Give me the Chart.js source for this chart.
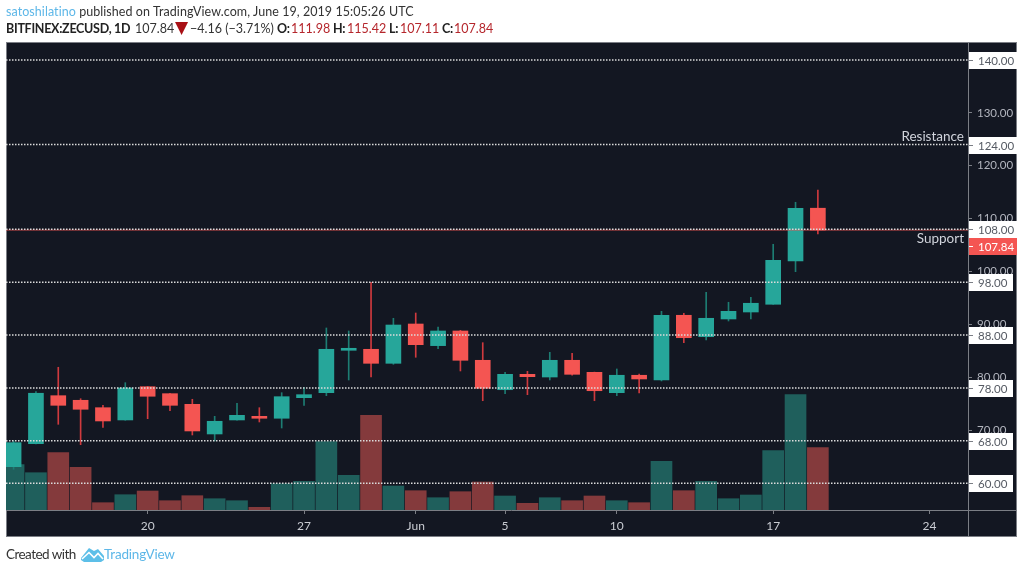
<!DOCTYPE html>
<html lang="en">
  <head>
    <meta charset="UTF-8" />
    <title>BITFINEX:ZECUSD, 1D</title>
    <script src="https://cdn.jsdelivr.net/npm/chart.js"></script>
    <style>
      * {
        margin: 0;
        padding: 0;
        box-sizing: border-box;
      }

      body {
        width: 1024px;
        height: 573px;
        background: #fff;
        overflow: hidden;
        position: relative;
        font-family: Lato, sans-serif;
      }

      .frame {
        position: absolute;
        left: 6px;
        top: 42px;
        width: 1011px;
        height: 495px;
        background: #131722;
        border: 1px solid #7b7e85;
      }

      canvas {
        position: absolute;
        left: 0;
        top: 0;
      }

      .line {
        position: absolute;
        left: 6px;
        top: 4px;
        white-space: nowrap;
        font-size: 12.5px;
        letter-spacing: 0.06px;
        color: #333;
      }

      .t {
        position: absolute;
        top: 21px;
        white-space: nowrap;
        font-size: 12.5px;
        color: #333;
      }

      .t.b {
        font-weight: 700;
        color: #222;
        letter-spacing: -0.28px;
      }

      .foot {
        position: absolute;
        top: 546px;
        font-size: 13.5px;
        letter-spacing: -0.2px;
        white-space: nowrap;
        color: #333;
      }

      .blue {
        color: #5db7e8;
      }

      .red {
        color: #b5262c;
      }

      .logo {
        position: absolute;
        left: 81px;
        top: 548px;
      }
    </style>
  </head>
  <body>
    <div class="frame"></div>
    <canvas id="chart" width="1024" height="573"></canvas>

    <div class="line"><span class="blue">satoshilatino</span> published on TradingView.com, June 19, 2019 15:05:26 UTC</div>
    <span class="t b" style="left: 6px">BITFINEX:ZECUSD, 1D</span>
    <span class="t" style="left: 135px">107.84</span>
    <span class="t red" style="left: 175px; top: 17px; font-size: 17px; font-family: 'DejaVu Sans'; color: #a81015">▼</span>
    <span class="t" style="left: 190px">−4.16 (−3.71%)</span>
    <span class="t b" style="left: 277px">O:</span>
    <span class="t red" style="left: 291px">111.98</span>
    <span class="t b" style="left: 333px">H:</span>
    <span class="t red" style="left: 347px">115.42</span>
    <span class="t b" style="left: 389px">L:</span>
    <span class="t red" style="left: 400px">107.11</span>
    <span class="t b" style="left: 442px">C:</span>
    <span class="t red" style="left: 454px">107.84</span>

    <div class="foot" style="left: 6px; letter-spacing: -0.55px">Created with</div>
    <svg class="logo" width="23" height="14" viewBox="0 0 23 14">
      <path d="M0 10 L8 0 L13 3 L17 1 L23 8 L23 12 L20 14 L3 14 L0 12 Z" fill="#5dbfe8" />
      <path d="M1 11 L8 4.5 L13 9.5 L17 5.5 L22 11" fill="none" stroke="#fff" stroke-width="1.6" />
    </svg>
    <div class="foot blue" style="left: 104px">TradingView</div>

    <script>
      // daily candles, May 14 - Jun 19 2019
      const opens = [63.12, 67.47, 76.54, 75.67, 74.27, 71.95, 78.24, 76.92, 74.91, 69.3, 71.95, 72.64, 72.27, 76.16, 77.11, 85.12, 85.31, 82.66, 90.09, 86.0, 88.77, 83.23, 77.67, 80.58, 80.07, 83.23, 80.96, 77.11, 80.4, 79.51, 91.74, 87.69, 91.04, 92.36, 93.82, 102.0, 111.98];
      const highs = [68.0, 77.3, 81.91, 75.97, 74.72, 79.0, 78.3, 77.0, 75.86, 72.64, 75.1, 74.27, 77.11, 78.13, 89.34, 88.77, 97.98, 91.17, 92.17, 89.53, 88.9, 86.56, 80.96, 81.15, 84.74, 84.55, 81.0, 81.59, 80.64, 92.49, 92.12, 96.09, 94.2, 95.14, 105.16, 113.1, 115.42];
      const lows = [62.63, 67.4, 71.13, 67.28, 70.56, 71.9, 72.19, 73.7, 69.11, 67.98, 71.9, 71.57, 70.43, 74.72, 76.54, 79.51, 80.07, 82.47, 83.8, 85.42, 81.21, 75.59, 76.92, 76.73, 79.51, 80.4, 75.59, 76.54, 77.05, 79.32, 86.56, 87.07, 90.66, 91.04, 93.8, 99.98, 107.11];
      const closes = [67.66, 77.0, 74.72, 73.97, 71.76, 78.0, 76.43, 74.72, 69.87, 71.7, 72.83, 72.27, 76.35, 76.73, 85.31, 85.5, 82.66, 89.9, 86.18, 88.77, 83.23, 77.94, 80.58, 80.13, 83.23, 80.58, 77.48, 80.4, 79.7, 91.74, 87.5, 91.17, 92.49, 94.01, 102.13, 111.97, 107.84];
      const volumes = [4530, 3730, 5730, 4270, 730, 1530, 1900, 930, 1430, 1130, 930, 270, 2630, 2870, 6830, 3470, 9470, 2400, 1930, 1230, 1830, 2800, 1400, 670, 1230, 930, 1400, 930, 730, 4870, 1930, 2870, 1130, 1500, 5930, 11530, 6230];

      const priceTicks = [60, 70, 80, 90, 100, 110, 120, 130, 140];
      const levels = [140, 124, 108, 98, 88, 78, 68, 60];
      const lastPrice = 107.84;
      const timeTicks = [6, 13, 18, 22, 27, 34, 41];
      const timeLabels = ["20", "27", "Jun", "5", "10", "17", "24"];

      const GREEN = "#26a69a";
      const RED = "#f45552";
      const axisFont = { family: "Lato, sans-serif", size: 11.5 };

      const isUp = opens.map((o, i) => closes[i] >= o);
      const days = opens.map((o, i) => i);

      // labels, boxes and axis lines the library has no option for
      const overlay = {
        id: "overlay",
        afterDraw(chart) {
          const { ctx, chartArea, scales } = chart;
          const y = scales.y;

          ctx.save();
          ctx.strokeStyle = "#7b7e85";
          ctx.lineWidth = 1;
          ctx.beginPath();
          ctx.moveTo(chartArea.left, chartArea.bottom + 0.5);
          ctx.lineTo(1017, chartArea.bottom + 0.5);
          ctx.moveTo(chartArea.right + 0.5, chartArea.top);
          ctx.lineTo(chartArea.right + 0.5, 536);
          ctx.stroke();

          ctx.font = "11.5px Lato, sans-serif";
          ctx.textBaseline = "middle";
          levels.forEach((level) => {
            const py = Math.round(y.getPixelForValue(level));
            ctx.fillStyle = "#fff";
            ctx.fillRect(chartArea.right + 1, py - 8, level >= 108 ? 48 : 44, 17);
            ctx.fillStyle = "#7b7e85";
            ctx.fillRect(chartArea.right + 1, py, 4, 1);
            ctx.fillStyle = "#555a63";
            ctx.fillText(level.toFixed(2), 978, py + 1);
          });

          const lastY = Math.round(y.getPixelForValue(lastPrice)) + 16;
          ctx.fillStyle = RED;
          ctx.fillRect(chartArea.right + 1, lastY - 8, 48, 17);
          ctx.fillStyle = "#fff";
          ctx.fillRect(chartArea.right + 1, lastY, 4, 1);
          ctx.fillText(lastPrice.toFixed(2), 978, lastY + 1);

          ctx.font = "13.5px Lato, sans-serif";
          ctx.textAlign = "right";
          ctx.fillStyle = "#d1d4dc";
          ctx.fillText("Resistance", 964, y.getPixelForValue(124) - 8);
          ctx.fillText("Support", 964, y.getPixelForValue(108) + 9);
          ctx.restore();
        },
      };

      const levelSets = levels.map((level) => ({
        type: "line",
        data: [
          { x: -0.34, y: level },
          { x: 42.72, y: level },
        ],
        borderColor: "#dcdcdc",
        borderWidth: 1.5,
        borderDash: [1.5, 1.5],
        pointRadius: 0,
        order: 1,
      }));

      new Chart(document.getElementById("chart"), {
        type: "bar",
        plugins: [overlay],
        data: {
          datasets: [
            {
              yAxisID: "vol",
              data: days.map((d) => ({ x: d, y: volumes[d] })),
              backgroundColor: isUp.map((u) => (u ? "#1f5f5c" : "#843a3c")),
              barThickness: 21,
              grouped: false,
              order: 5,
            },
            {
              data: days.map((d) => ({ x: d, y: [lows[d], highs[d]] })),
              backgroundColor: isUp.map((u) => (u ? "#1d7d73" : "#cf3a3e")),
              barThickness: 1,
              grouped: false,
              order: 4,
            },
            {
              data: days.map((d) => ({ x: d, y: [opens[d], closes[d]] })),
              backgroundColor: isUp.map((u) => (u ? GREEN : RED)),
              barThickness: 15,
              grouped: false,
              order: 3,
            },
            {
              type: "line",
              data: [
                { x: -0.34, y: lastPrice },
                { x: 42.72, y: lastPrice },
              ],
              borderColor: "rgba(244, 85, 82, 0.7)",
              borderWidth: 1,
              pointRadius: 0,
              order: 2,
            },
            ...levelSets,
          ],
        },
        options: {
          responsive: false,
          animation: false,
          layout: { padding: { left: 6, top: 42 } },
          plugins: { legend: { display: false }, tooltip: { enabled: false } },
          scales: {
            x: {
              type: "linear",
              offset: false,
              min: -0.34,
              max: 42.72,
              afterBuildTicks: (s) => {
                s.ticks = timeTicks.map((v) => ({ value: v }));
              },
              afterFit: (s) => {
                s.height = 63;
              },
              grid: { drawOnChartArea: false, offset: false, tickLength: 4, tickColor: "#7b7e85" },
              border: { display: false },
              ticks: {
                autoSkip: false,
                maxRotation: 0,
                padding: 5,
                color: "#c9ccd3",
                font: { family: "Lato, sans-serif", size: 12 },
                callback: (v) => timeLabels[timeTicks.indexOf(v)],
              },
            },
            y: {
              position: "right",
              min: 54.93,
              max: 143.4,
              afterBuildTicks: (s) => {
                s.ticks = priceTicks.map((v) => ({ value: v }));
              },
              afterFit: (s) => {
                s.width = 56;
              },
              grid: { drawOnChartArea: false, tickLength: 4, tickColor: "#7b7e85" },
              border: { display: false },
              ticks: {
                autoSkip: false,
                padding: 5,
                color: "#b2b5be",
                font: axisFont,
                callback: (v) => v.toFixed(2),
              },
            },
            vol: { display: false, min: 0, max: 46800 },
          },
        },
      });
    </script>
  </body>
</html>
